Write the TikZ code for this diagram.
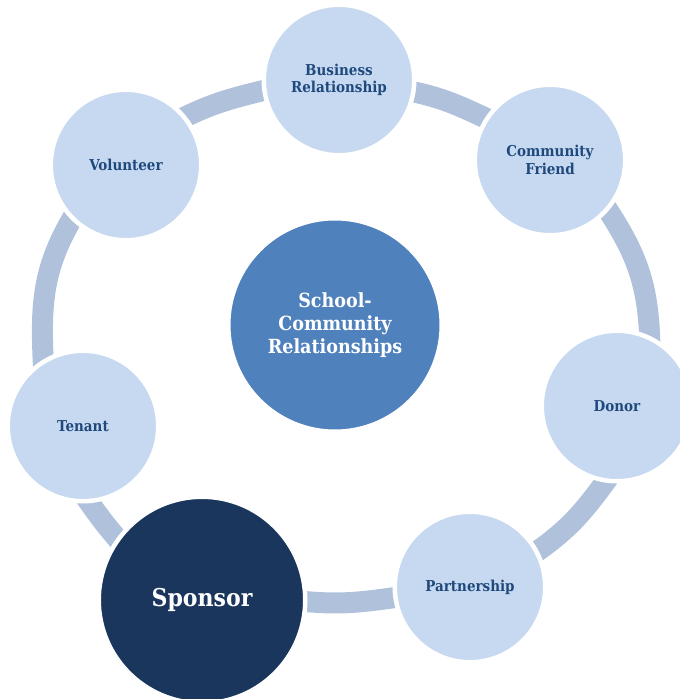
\documentclass[tikz,border=0pt]{standalone}
\usepackage{fontspec}
\setmainfont{DejaVu Serif Condensed}
\usetikzlibrary{backgrounds}

\definecolor{ringblue}{RGB}{176,193,220}
\definecolor{paleblue}{RGB}{198,217,240}
\definecolor{hubblue}{RGB}{79,129,189}
\definecolor{navyblue}{RGB}{26,54,93}
\definecolor{labelblue}{RGB}{31,73,125}

\begin{document}
\begin{tikzpicture}[x=1pt, y=1pt,
    role/.style={circle, fill=paleblue, draw=white, line width=4.5pt, minimum size=150.5pt,
        inner sep=0pt, align=center, text=labelblue,
        font=\bfseries\fontsize{15}{17.5}\selectfont},
    hub/.style={role, fill=hubblue, minimum size=213.5pt, text=white,
        font=\bfseries\fontsize{19.5}{23}\selectfont},
    keyrole/.style={role, fill=navyblue, minimum size=206.5pt, text=white,
        font=\bfseries\fontsize{24.5}{28}\selectfont},
    link/.style={ringblue, line width=21pt, shorten <=-12pt, shorten >=-12pt}]

\useasboundingbox (0,-699) rectangle (680,0);

% the centre and the ring of roles
\node[hub] (school) at (335,-325) {School-\\Community\\Relationships};
\node[role] (business) at (339,-80) {Business\\Relationship};
\node[role] (friend) at (550,-160) {Community\\Friend};
\node[role] (donor) at (617,-406) {Donor};
\node[role] (partner) at (470,-587) {Partnership};
\node[keyrole] (sponsor) at (202,-600) {Sponsor};
\node[role] (tenant) at (83,-426) {Tenant};
\node[role] (volunteer) at (126,-165) {Volunteer};

% the ring, cut by the white rims of the roles
\begin{scope}[on background layer]
\draw[link] (volunteer.39) to[out=27, in=194] (business.188);
\draw[link] (business.-9) to[out=-11, in=155] (friend.147);
\draw[link] (friend.-41) to[out=-56, in=91] (donor.65);
\draw[link] (donor.-99) to[out=-126, in=34] (partner.28);
\draw[link] (partner.188) to[out=188, in=-6] (sponsor.-1);
\draw[link] (sponsor.144) to[out=131, in=-55] (tenant.-85);
\draw[link] (tenant.121) to[out=93, in=238] (volunteer.225);
\end{scope}
\end{tikzpicture}
\end{document}
